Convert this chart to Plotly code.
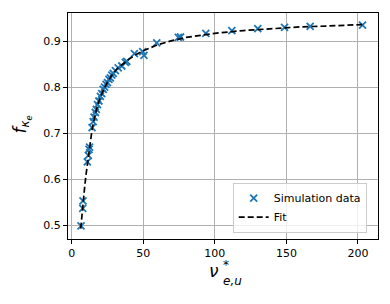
import plotly.graph_objects as go

# Simulation data
sim_x = [6.5, 7.7, 7.9, 10.9, 11.6, 12.1, 12.5, 14.2, 15.0, 15.6, 16.5, 17.2, 18.0, 19.0,
         20.0, 21.0, 22.0, 23.0, 24.0, 25.0, 26.0, 27.0, 28.0, 29.0, 30.5, 32.5, 35.0,
         37.5, 38.5, 43.8, 49.6, 50.5, 59.4, 74.5, 76.0, 93.7, 111.9, 130.0, 148.7,
         166.6, 203.2]
sim_y = [0.499, 0.537, 0.553, 0.638, 0.652, 0.665, 0.670, 0.712, 0.725, 0.735, 0.745,
         0.752, 0.762, 0.770, 0.780, 0.786, 0.795, 0.800, 0.806, 0.810, 0.817, 0.820,
         0.826, 0.830, 0.836, 0.842, 0.846, 0.854, 0.856, 0.873, 0.877, 0.869, 0.896,
         0.908, 0.909, 0.917, 0.923, 0.927, 0.930, 0.932, 0.935]

# Fit curve
fit_x = [6.3, 7, 8, 9, 10, 11, 12, 13, 14, 15, 16, 18, 20, 22, 25, 28, 32, 36, 40, 45,
         50, 60, 70, 80, 90, 100, 120, 140, 160, 180, 203]
fit_y = [0.493, 0.520, 0.552, 0.582, 0.610, 0.636, 0.660, 0.683, 0.703, 0.721, 0.736,
         0.760, 0.778, 0.793, 0.811, 0.826, 0.841, 0.852, 0.861, 0.871, 0.879, 0.892,
         0.901, 0.908, 0.913, 0.917, 0.923, 0.927, 0.931, 0.933, 0.936]

x_ticks = [0, 50, 100, 150, 200]
y_ticks = [0.5, 0.6, 0.7, 0.8, 0.9]

FONT = "DejaVu Sans"

fig = go.Figure()
fig.add_trace(go.Scatter(
    x=sim_x, y=sim_y, mode="markers", name="Simulation data",
    marker=dict(symbol="x-thin", size=7, color="#1f77b4",
                line=dict(width=1.8, color="#1f77b4")),
))
fig.add_trace(go.Scatter(
    x=fit_x, y=fit_y, mode="lines", name="Fit",
    line=dict(color="black", width=1.7, dash="6px,3px"),
))

L, R, T, B = 68, 12, 13, 65
W, H = 390, 304
pw, ph = W - L - R, H - T - B


def px(xp):
    return (xp - L) / pw


def py(yp):
    return (H - B - yp) / ph


axis_common = dict(
    showline=True, mirror=True, linecolor="black", linewidth=1,
    ticks="outside", ticklen=4, tickwidth=1, tickcolor="black",
    showgrid=True, gridcolor="#b0b0b0", gridwidth=1, zeroline=False,
    tickfont=dict(family=FONT, size=11, color="black"),
)

fig.update_xaxes(range=[-2.6, 214], tickvals=x_ticks,
                 ticktext=[str(v) for v in x_ticks], **axis_common)
fig.update_yaxes(range=[0.4703, 0.9611], tickvals=y_ticks,
                 ticktext=[f"{v:.1f}" for v in y_ticks], **axis_common)

annotations = [
    # x label: nu*_{e,u}
    dict(text="<i>ν</i>", x=px(214), y=py(271), font=dict(size=17),
         xanchor="center"),
    dict(text="*<br><i>e,u</i>", x=px(221.5), y=py(272.5), font=dict(size=12),
         xanchor="left", align="left"),
    # y label: f_{kappa_e}
    dict(text="<i>f</i><sub><i>κ</i><sub><i>e</i></sub></sub>", x=px(21.5),
         y=py(125), font=dict(size=17), textangle=-90, xanchor="center"),
]
for a in annotations:
    a.update(xref="paper", yref="paper", showarrow=False,
             yanchor="middle", borderpad=0)
    a["font"].update(family=FONT, color="black")

fig.update_layout(
    width=W, height=H,
    margin=dict(l=L, r=R, t=T, b=B),
    paper_bgcolor="white", plot_bgcolor="white",
    font=dict(family=FONT, size=11, color="black"),
    annotations=annotations,
    legend=dict(
        x=px(366.7), y=py(232.7), xanchor="right", yanchor="bottom",
        bgcolor="rgba(255,255,255,0.8)", bordercolor="#cccccc", borderwidth=1,
        font=dict(family=FONT, size=11, color="black"),
        tracegroupgap=0, itemwidth=30,
    ),
)

fig.write_html("out.html", config={"displayModeBar": False},
               post_script="document.body.style.margin='0';")
